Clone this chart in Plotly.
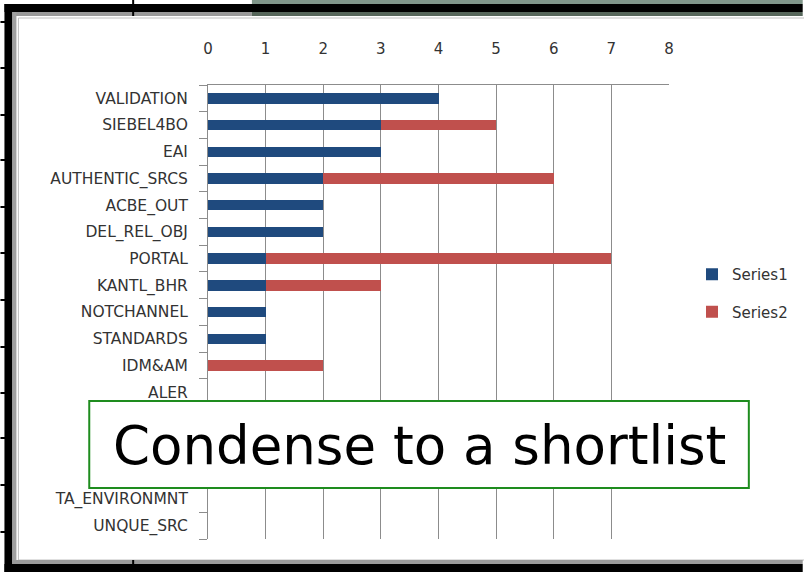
import plotly.graph_objects as go

categories = ["VALIDATION", "SIEBEL4BO", "EAI", "AUTHENTIC_SRCS", "ACBE_OUT",
              "DEL_REL_OBJ", "PORTAL", "KANTL_BHR", "NOTCHANNEL", "STANDARDS",
              "IDM&AM", "ALER", "HIDDEN_1", "HIDDEN_2", "HIDDEN_3",
              "TA_ENVIRONMNT", "UNQUE_SRC"]
# labels of the three rows covered by the text box cannot be read
category_labels = ["VALIDATION", "SIEBEL4BO", "EAI", "AUTHENTIC_SRCS", "ACBE_OUT",
                   "DEL_REL_OBJ", "PORTAL", "KANTL_BHR", "NOTCHANNEL", "STANDARDS",
                   "IDM&AM", "ALER", "", "", "",
                   "TA_ENVIRONMNT", "UNQUE_SRC"]
series1 = [4, 3, 3, 2, 2, 2, 1, 1, 1, 1, 0, 0, 0, 0, 0, 0, 0]
series2 = [0, 2, 0, 4, 0, 0, 6, 2, 0, 0, 2, 0, 0, 0, 0, 0, 0]
x_ticks = [0, 1, 2, 3, 4, 5, 6, 7, 8]
overlay_text = "Condense to a shortlist"

W, H = 804, 572
L, R, T, B = 208, 670, 85, 539


def px(x):
    return (x - L) / (R - L)


def py(y):
    return (B - y) / (B - T)


def rect(x0, y0, x1, y1, fill, line=None, lw=0):
    return dict(type="rect", xref="paper", yref="paper", layer="above",
                x0=px(x0), x1=px(x1), y0=py(y1), y1=py(y0),
                fillcolor=fill, line=dict(color=line or fill, width=lw))


def hline(x0, x1, y, color, w=1):
    return dict(type="line", xref="paper", yref="paper", layer="above",
                x0=px(x0), x1=px(x1), y0=py(y), y1=py(y), line=dict(color=color, width=w))


def vline(x, y0, y1, color, w=1):
    return dict(type="line", xref="paper", yref="paper", layer="above",
                x0=px(x), x1=px(x), y0=py(y0), y1=py(y1), line=dict(color=color, width=w))


fig = go.Figure()
fig.add_trace(go.Bar(y=categories, x=series1, name="Series1", orientation="h",
                     marker=dict(color="#1f4a7e", line=dict(width=0)), legendgroup="a"))
fig.add_trace(go.Bar(y=categories, x=series2, name="Series2", orientation="h",
                     marker=dict(color="#c0504d", line=dict(width=0)), legendgroup="b"))

shapes = []
# inner chart border
shapes.append(dict(type="rect", xref="paper", yref="paper", layer="above",
                   x0=px(18), x1=px(812), y0=py(560), y1=py(18),
                   line=dict(color="#c0c0c0", width=1), fillcolor="rgba(0,0,0,0)"))
# top strips
shapes.append(rect(252, 0, 804, 4, "#80968a"))
shapes.append(rect(4, 4, 804, 12, "#000000"))
shapes.append(rect(13, 12, 252, 16, "#9a9a9a"))
shapes.append(rect(252, 12, 804, 16, "#56665a"))
# left strips
shapes.append(rect(4, 4, 12, 572, "#000000"))
shapes.append(rect(12, 12, 16, 562, "#a0a0a0"))
# bottom strips
shapes.append(rect(12, 560, 804, 564, "#9a9a9a"))
shapes.append(rect(4, 564, 804, 572, "#000000"))
# ruler ticks
for yy in [22, 68, 115, 160, 207, 253, 300, 347, 393, 438, 485, 532]:
    shapes.append(hline(0, 5, yy, "#000000", 2))
shapes.append(vline(133, 0, 16, "#000000", 2))
shapes.append(vline(133, 560, 566, "#000000", 2))
# overlay text box
shapes.append(rect(89, 401, 750, 488, "#ffffff", "#1e8c1e", 2))

fig.update_layout(
    width=W, height=H,
    margin=dict(l=L, r=W - R, t=T, b=H - B, pad=0),
    paper_bgcolor="#ffffff", plot_bgcolor="#ffffff",
    barmode="stack", bargap=0.61,
    showlegend=True,
    legend=dict(x=px(692), y=py(258), xanchor="left", yanchor="top",
                font=dict(family="DejaVu Sans", size=15, color="#333333"),
                tracegroupgap=15, traceorder="grouped", bgcolor="rgba(0,0,0,0)"),
    shapes=shapes,
    annotations=[dict(text=overlay_text, xref="paper", yref="paper",
                      x=px(419.5), y=py(445), xanchor="center", yanchor="middle",
                      showarrow=False,
                      font=dict(family="DejaVu Sans", size=53, color="#000000"))],
)
fig.update_xaxes(side="top", range=[0, 8], tickvals=x_ticks,
                 ticktext=[str(v) for v in x_ticks],
                 showgrid=True, gridcolor="#8c8c8c", gridwidth=1,
                 zeroline=False, showline=True, linecolor="#8c8c8c", linewidth=1,
                 ticks="", ticklabelstandoff=24,
                 tickfont=dict(family="Liberation Sans Narrow, DejaVu Sans", size=15, color="#333333"),
                 fixedrange=True)
fig.update_yaxes(type="category", categoryorder="array", categoryarray=categories,
                 tickmode="array", tickvals=categories, ticktext=category_labels,
                 autorange="reversed", showgrid=False, zeroline=False,
                 showline=True, linecolor="#8c8c8c", linewidth=1,
                 ticks="outside", tickson="boundaries", ticklen=8, tickcolor="#8c8c8c",
                 ticklabelstandoff=16,
                 tickfont=dict(family="DejaVu Sans", size=15.5, color="#333333"),
                 fixedrange=True)

fig.write_html("out.html", config={"displayModeBar": False},
               post_script="document.body.style.margin='0';document.body.style.overflow='hidden';")
